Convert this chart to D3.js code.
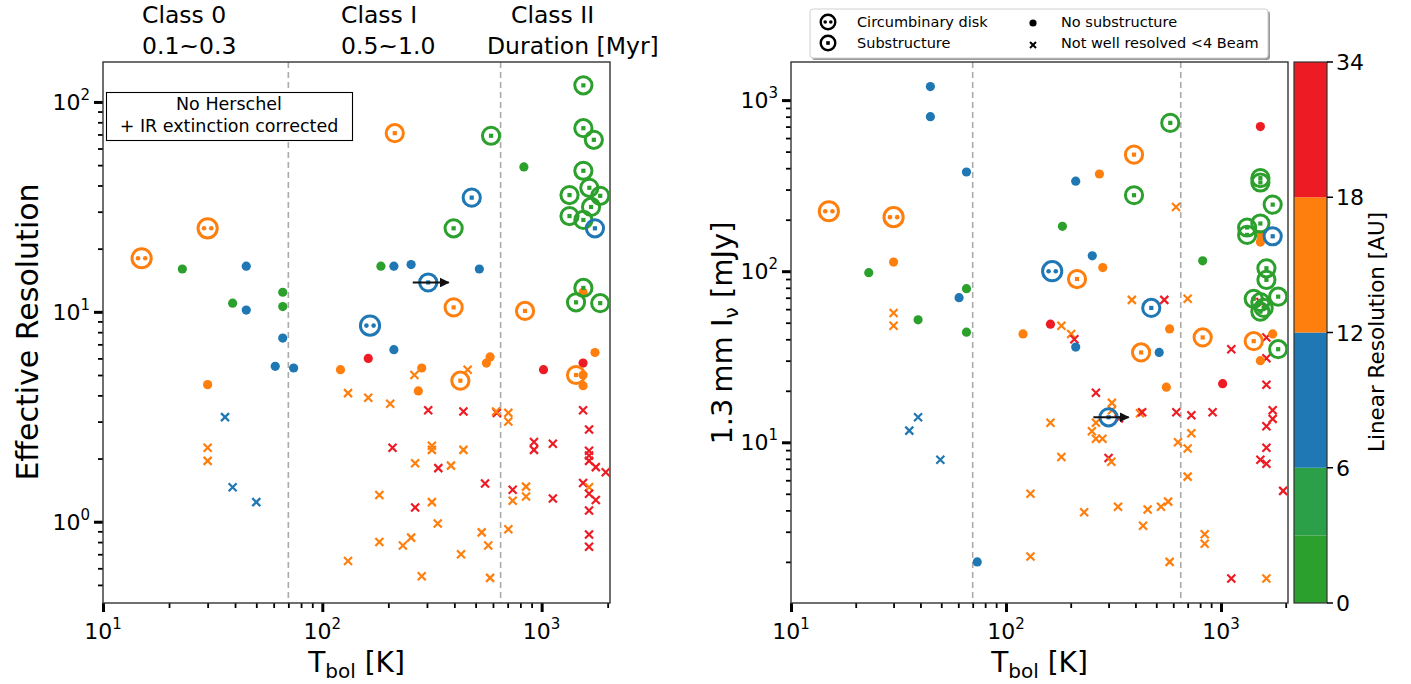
<!DOCTYPE html>
<html><head><meta charset="utf-8">
<script src="https://cdn.jsdelivr.net/npm/d3@7"></script>
<style>body{margin:0;background:#fff;} svg text{font-family:"DejaVu Sans",sans-serif;fill:#000;}</style>
</head><body><svg id="c" width="1411" height="684"></svg>
<script>
// ---------------- data ----------------
// linear-resolution bins (AU) and their colours
const colorbarTicks = [0, 6, 12, 18, 34];
const colorbarBands = [[0, 3], [3, 6], [6, 12], [12, 18], [18, 34]];
const colorbarBandColors = ["#2ca02c", "#2ba048", "#1f77b4", "#ff7f0e", "#ed1c24"];
const binColors = ["#2ca02c", "#1f77b4", "#ff7f0e", "#ed1c24"];
const classBounds = [70, 650];           // Tbol class boundaries (K)
const classLabels = [["Class 0", "0.1~0.3"], ["Class I", "0.5~1.0"], ["Class II", "Duration [Myr]"]];
const legendLabels = ["Circumbinary disk", "Substructure", "No substructure", "Not well resolved <4 Beam"];
const noteLines = ["No Herschel", "+ IR extinction corrected"];
const colorbarTitle = "Linear Resolution [AU]";

// Left panel: [Tbol (K), effective resolution, linear resolution (AU)]
const leftDots = [[23,16,4],[45,16.5,9],[39,11,4],[45,10.2,9],[66,12.4,4],[66,10.6,4],[66,7.5,9],[61,5.5,9],[74,5.4,9],[30,4.5,15],
 [185,16.5,4],[212,16.5,9],[254,16.8,9],[520,16,9],[212,6.6,9],[162,6,25],[121,5.3,15],[284,5.4,15],[582,6.1,15],[560,5.7,15],
 [830,49,4],[1020,5.3,25],[1545,12.4,15],[1751,6.4,15],[1545,5.7,25],[1545,5.0,15],[1545,4.45,15],[274,4.2,15]];
const leftCrosses = [[36,3.15,9],[30,2.25,15],[30,1.95,15],[39,1.46,9],[50,1.24,9],[263,5.0,15],[460,5.3,15],
 [131,4.1,15],[162,3.9,15],[204,3.65,15],[304,3.4,25],[440,3.35,25],[625,3.3,25],[620,3.35,15],[705,3.3,15],[705,3.0,15],
 [1545,3.4,25],[1645,2.75,25],[209,2.25,25],[316,2.3,15],[316,2.2,15],[440,2.2,15],[265,1.9,15],[338,1.8,25],[386,1.85,15],
 [552,1.52,25],[738,1.42,25],[849,1.47,15],[849,1.32,15],[738,1.26,15],[923,2.4,25],[923,2.2,25],[1125,2.35,25],
 [1645,2.18,25],[1645,2.07,25],[1645,1.95,25],[1766,1.82,25],[1960,1.72,25],[182,1.34,15],[265,1.17,25],[316,1.24,15],
 [336,0.98,15],[533,0.89,15],[571,0.77,15],[705,0.92,15],[182,0.8,15],[233,0.77,15],[254,0.84,15],[131,0.65,15],
 [429,0.7,15],[284,0.55,15],[582,0.54,15],[1545,1.53,25],[1645,1.46,15],[1645,1.36,25],[1766,1.27,25],[1125,1.29,25],
 [1645,1.13,25],[1645,0.87,25],[1645,0.76,25]];
const leftSubstructure = [[1550,120,4],[1550,75,4],[1730,66,4],[1550,47,4],[1650,39,4],[1340,36,4],[1850,35.7,4],[1680,31.6,4],
 [1340,28.6,4],[1550,27.4,4],[1550,13,4],[1435,11.1,4],[1850,11,4],[588,69,4],[397,25,4],
 [480,35,9],[1750,25,9],[304,13.8,9],
 [214,71,15],[397,10.5,15],[426,4.7,15],[840,10.1,15],[1435,5.0,15]];
const leftCircumbinary = [[15,18,15],[30,25,15],[165,8.6,9]];
const leftLowerLimits = [[304,13.8]];

// Right panel: [Tbol (K), 1.3 mm flux (mJy), linear resolution (AU)]
const rightDots = [[44.5,1200,9],[44.5,800,9],[65.5,380,9],[30,113,15],[23,98,4],[65.5,79,4],[60.5,70,9],[39,52,4],[65.5,44,4],
 [211,336,9],[272,370,15],[183,183,4],[252,123,9],[282,105,15],[161,49,25],[120,43,15],[822,115,4],[577,46,15],
 [1525,700,25],[1525,163,15],[1525,148,15],[1740,43,15],[1525,30,15],[211,36,9],[516,33.5,9],[1018,22,25],[557,21,15],[73.5,2.0,9]];
const rightCrosses = [[30,57,15],[30,48,15],[618,237,15],[181,48,15],[201,43,15],[208,40,25],[385,68,15],[545,68,25],[700,69,15],
 [1525,66,25],[1627,41,25],[1627,31,25],[1117,35,25],[1627,21.7,25],[262,19.5,25],[311,17,15],[311,15.4,15],[335,13.8,25],
 [420,14.8,15],[430,15,25],[620,15,25],[728,14.4,25],[914,15,25],[1740,15.4,25],[1740,13.7,25],[1627,12.4,25],[1627,9.3,25],
 [1525,7.9,25],[1627,7.5,25],[1946,5.2,25],[1117,1.6,25],[1627,1.6,15],[262,13,15],[251,11.6,15],[262,10.5,15],[281,10.5,15],
 [161,13,15],[181,8.2,15],[300,8.1,25],[309,7.7,15],[631,10,15],[700,9.2,15],[728,11.3,15],[700,6.3,15],[39,14,9],[35.5,11.7,9],
 [49.5,7.9,9],[130,5,15],[130,2.15,15],[231,3.9,15],[332,4.2,15],[456,4.05,15],[526,4.2,15],[568,4.5,15],[434,3.25,15],
 [577,2.0,15],[840,2.9,15],[840,2.55,15]];
const rightSubstructure = [[581,736,4],[394,278,4],[1525,350,4],[1525,330,4],[1740,245,4],[1525,190,4],[1323,180,4],[1323,163,4],
 [1627,104,4],[1627,89,4],[1420,69,4],[1845,71,4],[1525,66,4],[1580,61,4],[1525,58,4],[1845,35,4],
 [474,61,9],[1740,160,9],[300,14,9],
 [394,480,15],[214,90,15],[425,33.5,15],[822,41,15],[1420,39,15]];
const rightCircumbinary = [[15,224,15],[30,207,15],[164,100,9]];
const rightLowerLimits = [[300,14]];

// ---------------- drawing ----------------
const svg = d3.select("#c");
const color = d3.scaleThreshold().domain([6, 12, 18]).range(binColors);

svg.append("defs").append("marker").attr("id", "ah").attr("viewBox", "0 0 10 10")
  .attr("refX", 9).attr("refY", 5).attr("markerWidth", 5).attr("markerHeight", 5)
  .attr("markerUnits", "strokeWidth").attr("orient", "auto")
  .append("path").attr("d", "M0,0L10,5L0,10z").attr("fill", "#111");

function powLabel(g, x, y, v, anchor) {
  const t = g.append("text").attr("x", x).attr("y", y).attr("text-anchor", anchor).attr("font-size", 22);
  t.append("tspan").text("10");
  t.append("tspan").attr("dy", -10).attr("font-size", 15).text(Math.round(Math.log10(v)));
}

function isMajor(v) { return Math.abs(Math.log10(v) - Math.round(Math.log10(v))) < 1e-9; }

function drawPanel(x, y, dots, crosses, subs, cbs, limits) {
  const g = svg.append("g");
  const [x0, x1] = x.range(), [y0, y1] = y.range();
  // dashed class boundaries
  g.selectAll(".cls").data(classBounds).join("line")
    .attr("x1", d => x(d)).attr("x2", d => x(d)).attr("y1", y1).attr("y2", y0)
    .attr("stroke", "#aaa").attr("stroke-width", 1.6).attr("stroke-dasharray", "6,4");

  // axes ticks
  const xt = x.ticks(), yt = y.ticks();
  const xMaj = xt.filter(isMajor), xMin = xt.filter(v => !isMajor(v));
  const yMaj = yt.filter(isMajor), yMin = yt.filter(v => !isMajor(v));
  const ax = [
    [d3.axisBottom(x).tickValues(xMaj).tickSize(9), `translate(0,${y0})`, 3],
    [d3.axisBottom(x).tickValues(xMin).tickSize(5), `translate(0,${y0})`, 1.8],
    [d3.axisLeft(y).tickValues(yMaj).tickSize(9), `translate(${x0},0)`, 3],
    [d3.axisLeft(y).tickValues(yMin).tickSize(5), `translate(${x0},0)`, 1.8]
  ];
  ax.forEach(([a, tr, w]) => {
    const s = g.append("g").attr("transform", tr).call(a.tickFormat(""));
    s.select(".domain").remove();
    s.selectAll("line").attr("stroke", "#000").attr("stroke-width", w);
  });
  xMaj.forEach(v => powLabel(g, x(v), y0 + 36, v, "middle"));
  yMaj.forEach(v => powLabel(g, x0 - 13, y(v) + 8, v, "end"));

  // frame
  g.append("rect").attr("x", x0).attr("y", y1).attr("width", x1 - x0).attr("height", y0 - y1)
    .attr("fill", "none").attr("stroke", "#333").attr("stroke-width", 1.4);

  const m = g.append("g");
  // crosses
  m.selectAll(".cr").data(crosses).join("path")
    .attr("transform", d => `translate(${x(d[0])},${y(d[1])})`)
    .attr("d", "M-4,-4L4,4M-4,4L4,-4").attr("stroke", d => color(d[2])).attr("stroke-width", 2.2).attr("fill", "none");
  // dots
  m.selectAll(".dt").data(dots).join("circle")
    .attr("cx", d => x(d[0])).attr("cy", d => y(d[1])).attr("r", 4.6).attr("fill", d => color(d[2]));
  // substructure rings
  const sg = m.selectAll(".sb").data(subs).join("g").attr("transform", d => `translate(${x(d[0])},${y(d[1])})`);
  sg.append("circle").attr("r", 8.6).attr("fill", "none").attr("stroke", d => color(d[2])).attr("stroke-width", 3);
  sg.append("rect").attr("x", -2.1).attr("y", -2.1).attr("width", 4.2).attr("height", 4.2).attr("fill", d => color(d[2]));
  // circumbinary rings
  const cg = m.selectAll(".cb").data(cbs).join("g").attr("transform", d => `translate(${x(d[0])},${y(d[1])})`);
  cg.append("circle").attr("r", 9.6).attr("fill", "none").attr("stroke", d => color(d[2])).attr("stroke-width", 3);
  cg.append("circle").attr("cx", -3.6).attr("r", 2.3).attr("fill", d => color(d[2]));
  cg.append("circle").attr("cx", 3.6).attr("r", 2.3).attr("fill", d => color(d[2]));
  // lower-limit arrows
  m.selectAll(".ar").data(limits).join("line")
    .attr("x1", d => x(d[0] * 0.85)).attr("x2", d => x(d[0] * 1.24))
    .attr("y1", d => y(d[1])).attr("y2", d => y(d[1]))
    .attr("stroke", "#111").attr("stroke-width", 2).attr("marker-end", "url(#ah)");

  // x label
  const xl = g.append("text").attr("x", (x0 + x1) / 2).attr("y", 672).attr("text-anchor", "middle").attr("font-size", 28);
  xl.append("tspan").text("T");
  xl.append("tspan").attr("dy", 6).attr("font-size", 20).text("bol");
  xl.append("tspan").attr("dy", -6).text(" [K]");
  return g;
}

const xL = d3.scaleLog().domain([10, 2050]).range([103, 610]);
const yL = d3.scaleLog().domain([0.41, 155]).range([603, 62]);
const xR = d3.scaleLog().domain([10, 2050]).range([791, 1288]);
const yR = d3.scaleLog().domain([1.15, 1670]).range([603, 62]);

drawPanel(xL, yL, leftDots, leftCrosses, leftSubstructure, leftCircumbinary, leftLowerLimits);
drawPanel(xR, yR, rightDots, rightCrosses, rightSubstructure, rightCircumbinary, rightLowerLimits);

// y labels
svg.append("text").attr("transform", "translate(38,332) rotate(-90)").attr("text-anchor", "middle")
  .attr("font-size", 30).text("Effective Resolution");
const yl = svg.append("text").attr("transform", "translate(732,333) rotate(-90)").attr("text-anchor", "middle").attr("font-size", 29);
yl.append("tspan").text("1.3\u2009mm I");
yl.append("tspan").attr("dy", 6).attr("font-size", 20).text("\u03bd");
yl.append("tspan").attr("dy", -6).text(" [mJy]");

// class labels (left-aligned lines like the reference)
const clsX = [[142, 142], [341, 341], [511, 487]];
classLabels.forEach((ls, i) => {
  ls.forEach((s, j) => svg.append("text").attr("x", clsX[i][j]).attr("y", 23 + j * 31).attr("font-size", 23.5).text(s));
});

// note box
svg.append("rect").attr("x", 106.5).attr("y", 92.5).attr("width", 246).attr("height", 48)
  .attr("fill", "#fff").attr("stroke", "#000").attr("stroke-width", 1.1);
noteLines.forEach((s, i) => svg.append("text").attr("x", 229).attr("y", 110 + i * 22)
  .attr("text-anchor", "middle").attr("font-size", 17.5).text(s));

// legend
const lg = svg.append("g");
lg.append("rect").attr("x", 812).attr("y", 11).attr("width", 458).attr("height", 49).attr("rx", 3).attr("fill", "#999");
lg.append("rect").attr("x", 810).attr("y", 9).attr("width", 458).attr("height", 49).attr("rx", 3)
  .attr("fill", "#fff").attr("stroke", "#d0d0d0");
const lcb = lg.append("g").attr("transform", "translate(828,22)");
lcb.append("circle").attr("r", 7.3).attr("fill", "none").attr("stroke", "#000").attr("stroke-width", 2.4);
lcb.append("circle").attr("cx", -2.8).attr("r", 1.8);
lcb.append("circle").attr("cx", 2.8).attr("r", 1.8);
const lsb = lg.append("g").attr("transform", "translate(828,43)");
lsb.append("circle").attr("r", 7.3).attr("fill", "none").attr("stroke", "#000").attr("stroke-width", 2.4);
lsb.append("rect").attr("x", -1.8).attr("y", -1.8).attr("width", 3.6).attr("height", 3.6);
lg.append("circle").attr("cx", 1033).attr("cy", 23).attr("r", 3.6);
lg.append("path").attr("transform", "translate(1033,45)").attr("d", "M-3,-3L3,3M-3,3L3,-3").attr("stroke", "#000").attr("stroke-width", 2);
[[857, 27], [857, 48], [1061, 27], [1061, 48]].forEach((p, i) =>
  lg.append("text").attr("x", p[0]).attr("y", p[1]).attr("font-size", 14.5).text(legendLabels[i]));

// colorbar
const cbY = d3.scaleLinear().domain(colorbarTicks).range([603, 467.75, 332.5, 197.25, 62]);
const cb = svg.append("g");
cb.selectAll("rect.b").data(colorbarBands).join("rect")
  .attr("x", 1294).attr("width", 33).attr("y", d => cbY(d[1])).attr("height", d => cbY(d[0]) - cbY(d[1]))
  .attr("fill", (d, i) => colorbarBandColors[i]);
cb.append("rect").attr("x", 1294).attr("y", 62).attr("width", 33).attr("height", 541)
  .attr("fill", "none").attr("stroke", "#333").attr("stroke-width", 1.2);
colorbarTicks.forEach(v => {
  cb.append("line").attr("x1", 1327).attr("x2", 1333).attr("y1", cbY(v)).attr("y2", cbY(v)).attr("stroke", "#000").attr("stroke-width", 1.5);
  cb.append("text").attr("x", 1336).attr("y", cbY(v) + 8).attr("font-size", 22).text(v);
});
svg.append("text").attr("transform", "translate(1384,332) rotate(-90)").attr("text-anchor", "middle")
  .attr("font-size", 21.5).text(colorbarTitle);
</script></body></html>
